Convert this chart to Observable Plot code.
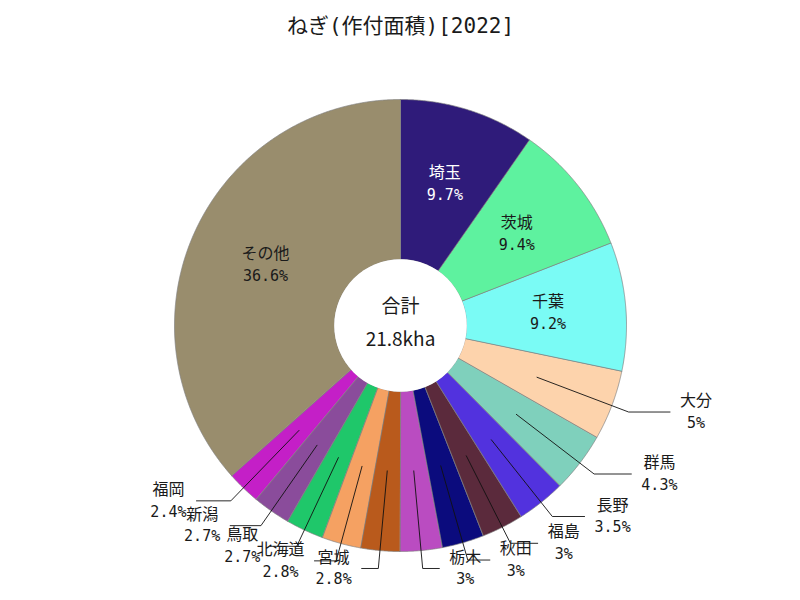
<!DOCTYPE html>
<html>
<head>
<meta charset="utf-8">
<script src="https://cdn.jsdelivr.net/npm/d3@7"></script>
<script src="https://cdn.jsdelivr.net/npm/@observablehq/plot@0.6"></script>
<style>
  body { margin: 0; background: #fff; }
  #chart svg { display: block; }
</style>
</head>
<body>
<div id="chart"></div>
<script>
// ---- data ----
const title = "ねぎ(作付面積)[2022]";
const names = ["埼玉", "茨城", "千葉", "大分", "群馬", "長野", "福島", "秋田", "栃木", "宮城", "北海道", "鳥取", "新潟", "福岡", "その他"];
const shares = [9.7, 9.4, 9.2, 5, 4.3, 3.5, 3, 3, 3, 2.8, 2.8, 2.7, 2.7, 2.4, 36.6];
const colors = ["#2f1b7a", "#5ef29f", "#7afbf5", "#fdd3ac", "#7fd0bc", "#5232de", "#5b2a3c", "#0b0b7d", "#ba4cc1", "#b95a1c", "#f5a162", "#1fc76a", "#8a4c9b", "#c41fc7", "#998d6d"];
const totalLabel = "合計";
const totalValue = "21.8kha";

// ---- geometry (1 data unit = 1 px) ----
const W = 800, H = 600, CY = 325;
const R_OUT = 226, R_IN = 66, R_LABEL = 148, R_START = 146, R_ELBOW = 244;
const NAME_FONT = "'Noto Sans CJK JP', sans-serif";
const PCT_FONT = "'DejaVu Sans Mono', 'Noto Sans CJK JP', monospace";
const PCT_SIZE = 15;

const sum = d3.sum(shares);
let acc = 0;
const slices = names.map((name, i) => {
  const a0 = acc / sum * 2 * Math.PI;
  acc += shares[i];
  const a1 = acc / sum * 2 * Math.PI;
  return {name, share: shares[i], color: colors[i], a0, a1, mid: (a0 + a1) / 2, pct: `${shares[i]}%`};
});
const pol = (r, a) => [r * Math.sin(a), r * Math.cos(a)];

function slicePoints(s) {
  const n = Math.max(2, Math.ceil((s.a1 - s.a0) / (Math.PI / 720)));
  const pts = [];
  for (let k = 0; k <= n; k++) {
    const [x, y] = pol(R_OUT, s.a0 + (s.a1 - s.a0) * k / n);
    pts.push({x, y});
  }
  for (let k = n; k >= 0; k--) {
    const [x, y] = pol(R_IN, s.a0 + (s.a1 - s.a0) * k / n);
    pts.push({x, y});
  }
  return pts;
}

const ctx = document.createElement("canvas").getContext("2d");
function measure(text, size, family) {
  ctx.font = `${size}px ${family}`;
  return ctx.measureText(text).width;
}

const inside = slices.filter(s => s.share >= 9).map(s => {
  const [x, y] = pol(R_LABEL, s.mid);
  return {...s, x, y};
});
const outside = slices.filter(s => s.share < 9).map(s => {
  const [sx, sy] = pol(R_START, s.mid);
  const [ex, ey] = pol(R_ELBOW, s.mid);
  const sign = ex >= 0 ? 1 : -1;
  const endX = sign * (1.12 * Math.abs(ex) + 14);
  const bw = Math.max(measure(s.name, 16, NAME_FONT), measure(s.pct, PCT_SIZE, PCT_FONT));
  const cx = endX + sign * (10 + bw / 2);
  return {...s, sx, sy, ex, ey, endX, cx, y: ey};
});
const leaders = outside.flatMap(o => [
  {key: o.name, x: o.sx, y: o.sy},
  {key: o.name, x: o.ex, y: o.ey},
  {key: o.name, x: o.endX, y: o.ey}
]);

const isDark = d => d.name === "埼玉";
const marks = [
  ...slices.map(s => Plot.line(slicePoints(s), {
    x: "x", y: "y", fill: s.color, stroke: "#808080", strokeWidth: 0.7, curve: "linear-closed"
  })),
  Plot.dot([0], {x: () => 0, y: () => 0, r: R_IN + 0.3, fill: "white", stroke: "none"}),
  Plot.line(leaders, {x: "x", y: "y", z: "key", stroke: "#111", strokeWidth: 0.9}),
  // inside labels
  Plot.text(inside, {x: "x", y: "y", text: "name", dy: -11, fontSize: 16, fontFamily: NAME_FONT,
    fill: d => isDark(d) ? "#fff" : "#1a1a1a", fontWeight: d => isDark(d) ? "bold" : "normal"}),
  Plot.text(inside, {x: "x", y: "y", text: "pct", dy: 11, fontSize: PCT_SIZE, fontFamily: PCT_FONT,
    fill: d => isDark(d) ? "#fff" : "#1a1a1a", fontWeight: d => isDark(d) ? "bold" : "normal"}),
  // outside labels
  Plot.text(outside, {x: "cx", y: "y", text: "name", dy: -11, fontSize: 16, fontFamily: NAME_FONT, fill: "#1a1a1a"}),
  Plot.text(outside, {x: "cx", y: "y", text: "pct", dy: 11, fontSize: PCT_SIZE, fontFamily: PCT_FONT, fill: "#1a1a1a"}),
  // center
  Plot.text([totalLabel], {x: () => 0, y: () => 0, text: d => d, dy: -19, fontSize: 19, fontFamily: NAME_FONT, fill: "#1a1a1a"}),
  Plot.text([totalValue], {x: () => 0, y: () => 0, text: d => d, dy: 14, fontSize: 19, fontFamily: NAME_FONT, fill: "#1a1a1a"}),
  // title
  Plot.text([title], {frameAnchor: "top", text: d => d, dy: 26, lineAnchor: "middle", fontSize: 21, fontFamily: PCT_FONT, fill: "#1a1a1a"})
];

const chart = Plot.plot({
  width: W, height: H,
  margin: 0,
  x: {domain: [-W / 2, W / 2], axis: null},
  y: {domain: [CY - H, CY], axis: null},
  style: {background: "#fff"},
  marks
});
document.getElementById("chart").appendChild(chart);
</script>
</body>
</html>
